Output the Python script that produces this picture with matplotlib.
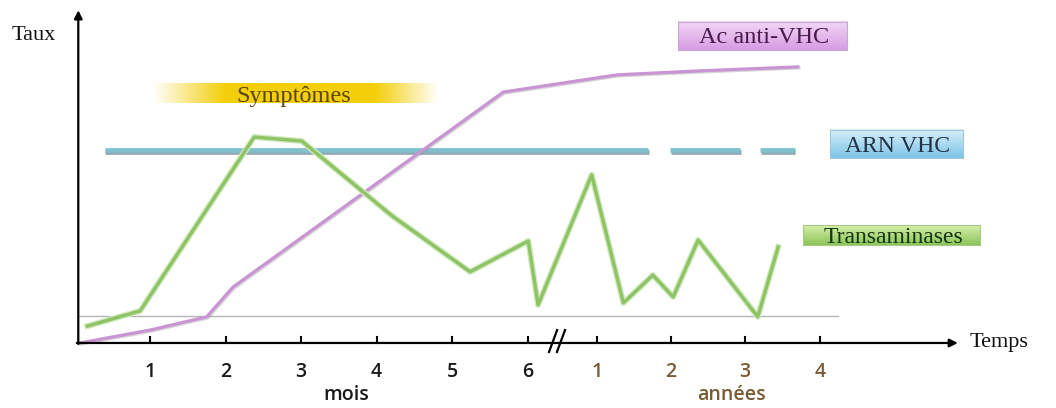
import numpy as np
import matplotlib
matplotlib.use('Agg')
import matplotlib.pyplot as plt
import matplotlib.patheffects as pe
from matplotlib.colors import to_rgb

# ---------------- data ----------------
month_pos = [1, 2, 3, 4, 5, 6]
month_labels = ['1', '2', '3', '4', '5', '6']
year_pos = [6.92, 7.90, 8.88, 9.87]
year_labels = ['1', '2', '3', '4']

trans_x = [0.17, 0.87, 2.38, 3.01, 4.20, 5.24, 6.01, 6.14, 6.85, 7.27, 7.66, 7.93, 8.26, 9.05, 9.32]
trans_y = [5.1, 9.7, 62.2, 61.0, 38.5, 21.5, 30.8, 11.5, 50.8, 12.1, 20.5, 13.9, 31.1, 7.9, 29.0]

ac_x = [0.07, 1.00, 1.75, 2.10, 5.68, 7.19, 8.29, 9.58]
ac_y = [0.0, 3.9, 7.9, 16.9, 75.8, 81.0, 82.2, 83.4]

arn_level = 58.3
arn_segments = [(0.40, 7.60), (7.89, 8.82), (9.08, 9.54)]

baseline_level = 8.2

# ---------------- figure ----------------
fig = plt.figure(figsize=(10.56, 4.08), dpi=100)
ax = fig.add_axes([0, 0, 1, 1])
XL = (-0.987, 13.0)
YL = (-19.64, 103.6)

x0 = 0.05  # axis origin

# baseline
ax.plot([x0, 10.11], [baseline_level, baseline_level], color='#b5b5b5', lw=1.0, zorder=2)

# ARN VHC
for a, b in arn_segments:
    ax.plot([a, b], [arn_level, arn_level], color='#80bfcc', lw=3.4, solid_capstyle='butt', zorder=3,
            path_effects=[pe.SimpleLineShadow(offset=(0.5, -1.2), shadow_color='#4a7080', alpha=0.6),
                          pe.Normal()])

# anti-VHC
ax.plot(ac_x, ac_y, color='#c994d4', lw=2.3, zorder=4,
        path_effects=[pe.SimpleLineShadow(offset=(0.8, -0.8), shadow_color='#888888', alpha=0.35),
                      pe.Normal()])

# transaminases
ax.plot(trans_x, trans_y, color='#8ec466', lw=2.5, zorder=5,
        path_effects=[pe.Stroke(linewidth=4.4, foreground='#d4ebc2'), pe.Normal()])

# axes arrows
ax.annotate('', xy=(x0, 100.5), xytext=(x0, -0.3),
            arrowprops=dict(arrowstyle='-|>', color='black', lw=1.6, mutation_scale=12, shrinkA=0, shrinkB=0), zorder=6)
ax.annotate('', xy=(11.70, 0), xytext=(x0 - 0.02, 0),
            arrowprops=dict(arrowstyle='-|>', color='black', lw=1.6, mutation_scale=12, shrinkA=0, shrinkB=0), zorder=6)

# ticks
for p in month_pos + year_pos:
    ax.plot([p, p], [0, 1.9], color='black', lw=1.5, zorder=6)

# break mark
for dx in (0.0, 0.105):
    ax.plot([6.285 + dx, 6.392 + dx], [-2.7, 3.9], color='black', lw=1.6, zorder=7)

tick_font = dict(family=['Open Sans', 'DejaVu Sans'], fontweight='semibold', fontsize=14,
                 ha='center', va='baseline')
for p, l in zip(month_pos, month_labels):
    ax.text(p, -10.3, l, color='#1a1a1a', **tick_font)
for p, l in zip(year_pos, year_labels):
    ax.text(p, -10.3, l, color='#7a5a32', **tick_font)
ax.text(3.60, -17.2, 'mois', color='#1a1a1a', **tick_font)
ax.text(8.70, -17.2, 'années', color='#7a5a32', **tick_font)

serif = ['Liberation Serif', 'DejaVu Serif']
ax.text(11.85, -1.2, 'Temps', family=serif, fontsize=16, ha='left', va='baseline', color='#111111')
ax.text(-0.83, 91.5, 'Taux', family=serif, fontsize=16, ha='left', va='baseline', color='#111111')


def gradient_box(xa, xb, ya, yb, c_top, c_bot, edge, z=8):
    n = 64
    t = np.linspace(0, 1, n)[:, None]
    ct, cb = np.array(to_rgb(c_top)), np.array(to_rgb(c_bot))
    img = ct[None, None, :] * (1 - t[:, :, None]) + cb[None, None, :] * t[:, :, None]
    img = np.repeat(img, 4, axis=1)
    ax.imshow(img, extent=[xa, xb, yb, ya], aspect='auto', origin='upper', zorder=z,
              interpolation='bicubic')
    ax.plot([xa, xb, xb, xa, xa], [ya, ya, yb, yb, ya], color=edge, lw=0.8, zorder=z + 0.1)


# label boxes
gradient_box(7.99, 10.23, 97.0, 88.5, '#f3d7f7', '#d79ce4', '#c8a8d0')
ax.text(9.13, 90.6, 'Ac anti-VHC', family=serif, fontsize=17.5, ha='center', va='baseline',
        color='#4a1a4c', zorder=10)

gradient_box(10.01, 11.77, 64.4, 55.9, '#d8f0fa', '#7cc4e6', '#a0c8d8')
ax.text(10.90, 57.7, 'ARN VHC', family=serif, fontsize=17, ha='center', va='baseline',
        color='#233246', zorder=10)

gradient_box(9.65, 11.99, 35.6, 29.6, '#d6efa8', '#8cc45a', '#a8c888')
ax.text(10.85, 30.2, 'Transaminases', family=serif, fontsize=17, ha='center', va='baseline',
        color='#143410', zorder=10)

# symptômes band
nx = 300
xs = np.linspace(0, 1, nx)
alpha = np.clip(np.minimum(xs / 0.25, (1 - xs) / 0.22), 0, 1)
col = np.array(to_rgb('#f4cf0a'))
band = np.zeros((8, nx, 4))
band[:, :, :3] = col
band[:, :, 3] = alpha[None, :]
ax.imshow(band, extent=[1.04, 4.82, 72.5, 78.5], aspect='auto', zorder=8, interpolation='bicubic')
ax.text(2.91, 72.8, 'Symptômes', family=serif, fontsize=17.5, ha='center', va='baseline',
        color='#5a4606', zorder=10)

ax.set_xlim(*XL)
ax.set_ylim(*YL)
ax.axis('off')
fig.savefig('out.png', dpi=100)
